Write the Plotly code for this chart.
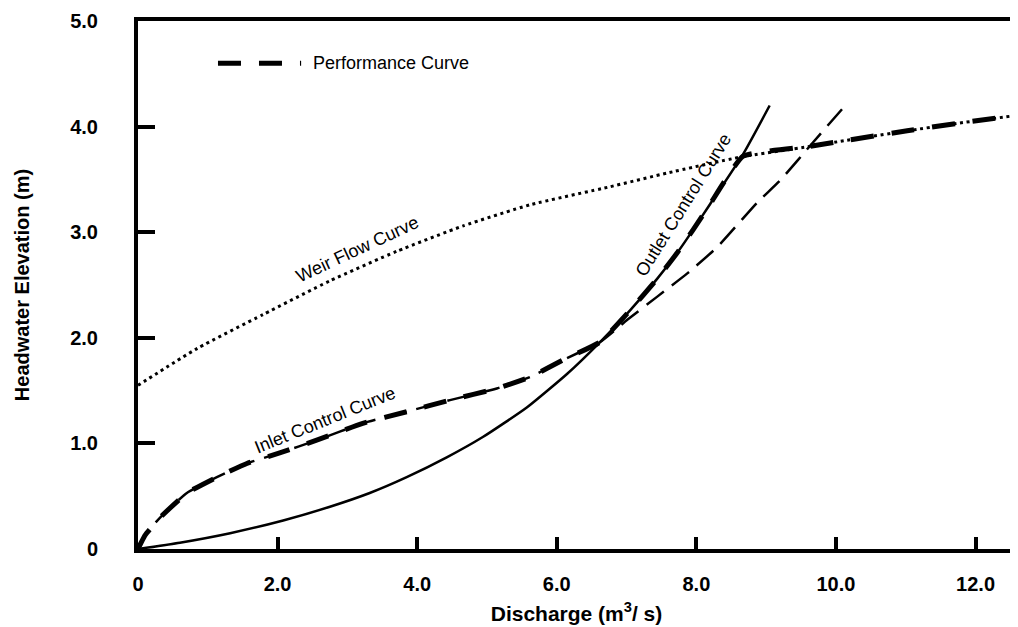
import plotly.graph_objects as go

# Discharge (m3/s) and headwater elevation (m)
outlet_q = [0, 0.60, 1.32, 2.08, 2.75, 3.32, 3.85, 4.43, 4.94, 5.57, 6.15, 6.62, 7.05, 7.44, 7.72, 7.95, 8.20, 8.67, 9.05]
outlet_hw = [0, 0.06, 0.15, 0.27, 0.40, 0.53, 0.68, 0.87, 1.06, 1.34, 1.66, 1.96, 2.26, 2.56, 2.80, 3.02, 3.27, 3.74, 4.20]

inlet_q = [0, 0.10, 0.32, 0.70, 1.13, 1.56, 2.03, 2.56, 3.22, 3.85, 4.47, 5.14, 5.62, 6.09, 6.62, 7.01, 7.44, 7.87, 8.30, 8.87, 9.20, 9.67, 10.16]
inlet_hw = [0, 0.13, 0.30, 0.53, 0.68, 0.81, 0.91, 1.03, 1.19, 1.30, 1.41, 1.52, 1.63, 1.79, 1.96, 2.17, 2.39, 2.61, 2.86, 3.28, 3.49, 3.85, 4.22]

weir_q = [0, 0.85, 1.79, 2.75, 3.71, 4.66, 5.62, 6.76, 7.58, 8.62, 9.60, 10.06, 11.02, 11.73, 12.52]
weir_hw = [1.55, 1.90, 2.22, 2.54, 2.82, 3.06, 3.26, 3.43, 3.56, 3.71, 3.81, 3.86, 3.96, 4.03, 4.10]

perf_q = [0, 0.10, 0.32, 0.70, 1.13, 1.56, 2.03, 2.56, 3.22, 3.85, 4.47, 5.14, 5.62, 6.09, 6.62,
          7.05, 7.44, 7.72, 7.95, 8.20, 8.67, 9.60, 10.06, 11.02, 11.73, 12.52]
perf_hw = [0, 0.13, 0.30, 0.53, 0.68, 0.81, 0.91, 1.03, 1.19, 1.30, 1.41, 1.52, 1.63, 1.79, 1.96,
           2.26, 2.56, 2.80, 3.02, 3.27, 3.72, 3.81, 3.86, 3.96, 4.03, 4.10]

x_ticks = [0, 2, 4, 6, 8, 10, 12]
x_tick_text = ["0", "2.0", "4.0", "6.0", "8.0", "10.0", "12.0"]
y_ticks = [0, 1, 2, 3, 4, 5]
y_tick_text = ["0", "1.0", "2.0", "3.0", "4.0", "5.0"]

FONT = "Liberation Sans, Arial, sans-serif"

fig = go.Figure()
fig.add_trace(go.Scatter(x=weir_q, y=weir_hw, mode="lines", name="Weir Flow Curve",
                         line=dict(color="black", width=3, dash="3px,3.7px", shape="spline", smoothing=0.5)))
fig.add_trace(go.Scatter(x=outlet_q, y=outlet_hw, mode="lines", name="Outlet Control Curve",
                         line=dict(color="black", width=2.5, shape="spline", smoothing=0.5)))
fig.add_trace(go.Scatter(x=inlet_q, y=inlet_hw, mode="lines", name="Inlet Control Curve",
                         line=dict(color="black", width=2.5, dash="22px,10px", shape="spline", smoothing=0.5)))
fig.add_trace(go.Scatter(x=perf_q, y=perf_hw, mode="lines", name="Performance Curve",
                         line=dict(color="black", width=5, dash="23px,18px", shape="spline", smoothing=0.4)))

# legend sample (drawn manually to match the long sample line)
fig.add_shape(type="line", xref="paper", yref="paper", x0=0.0912, x1=0.186, y0=0.920, y1=0.920,
              line=dict(color="black", width=5, dash="23px,18px"))
fig.add_annotation(text="Performance Curve", xref="paper", yref="paper", x=0.197, y=0.920,
                   xanchor="left", yanchor="middle", showarrow=False,
                   font=dict(family=FONT, size=18, color="black"))

# curve labels
fig.add_annotation(text="Weir Flow Curve", x=3.15, y=2.84, textangle=-25, showarrow=False,
                   font=dict(family=FONT, size=18, color="black"))
fig.add_annotation(text="Inlet Control Curve", x=2.68, y=1.22, textangle=-22, showarrow=False,
                   font=dict(family=FONT, size=18, color="black"))
fig.add_annotation(text="Outlet Control Curve", x=7.81, y=3.26, textangle=-58, showarrow=False,
                   font=dict(family=FONT, size=18, color="black"))

# the page body has an 8px margin, so the figure is sized to fill the rest of the window
fig.update_layout(
    width=1010, height=619,
    margin=dict(l=130, r=3, t=13, b=78),
    plot_bgcolor="white", paper_bgcolor="white",
    showlegend=False,
    font=dict(family=FONT, color="black"),
)
fig.update_xaxes(
    range=[0, 12.565], tickvals=x_ticks, ticktext=x_tick_text, automargin=False,
    ticks="inside", ticklen=12, tickwidth=3.5, tickcolor="black",
    showline=True, linewidth=4, linecolor="black", mirror=True,
    showgrid=False, zeroline=False, ticklabelstandoff=14,
    tickfont=dict(family=FONT, size=20, weight="bold", color="black"),
    title=dict(text="Discharge (m<sup>3</sup>/ s)", standoff=13,
               font=dict(family=FONT, size=21, weight="bold", color="black")),
)
fig.update_yaxes(
    range=[0, 5], tickvals=y_ticks, ticktext=y_tick_text, automargin=False,
    ticks="inside", ticklen=17, tickwidth=4, tickcolor="black",
    showline=True, linewidth=4, linecolor="black", mirror=True,
    showgrid=False, zeroline=False, ticklabelstandoff=32,
    tickfont=dict(family=FONT, size=20, weight="bold", color="black"),
    title=dict(text="Headwater Elevation (m)", standoff=36,
               font=dict(family=FONT, size=20, weight="bold", color="black")),
)

fig.write_html("out.html")
